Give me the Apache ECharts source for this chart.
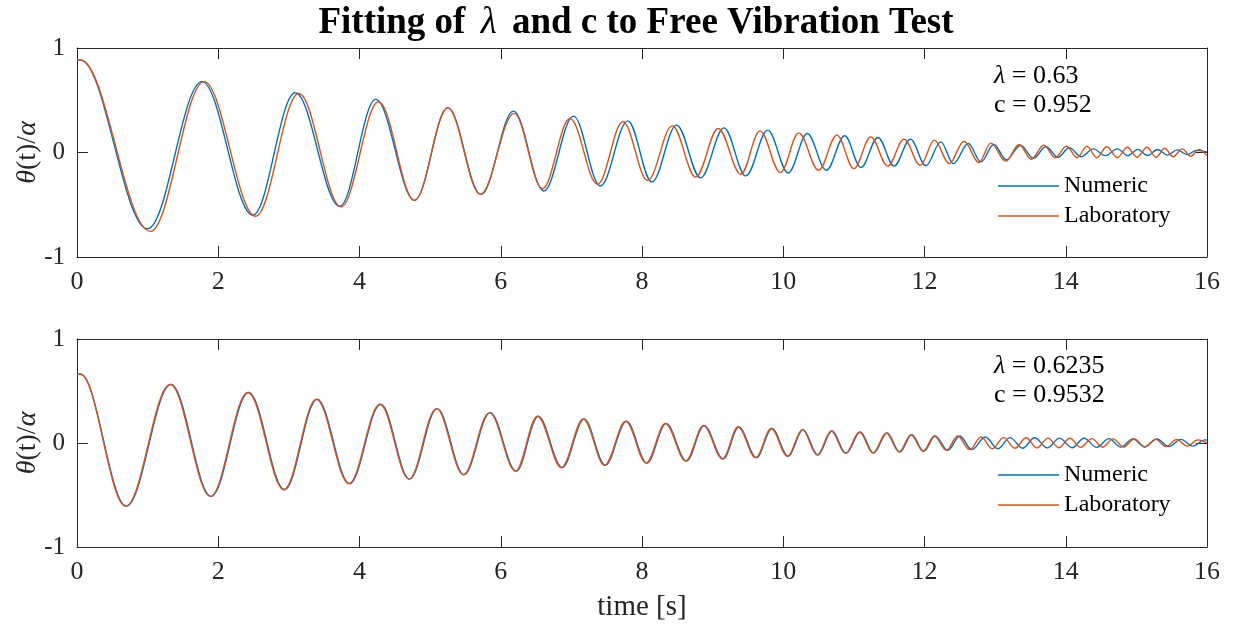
<!DOCTYPE html>
<html><head><meta charset="utf-8">
<script src="https://cdn.jsdelivr.net/npm/echarts@6/dist/echarts.min.js"></script>
<style>html,body{margin:0;padding:0;background:#fff}#c{width:1237px;height:628px}</style>
</head><body><div id="c"></div>
<script>
// ---- data: extrema (peaks/troughs) ----
const topNumericT = [0,0.05,1.00,1.77,2.49,3.09,3.72,4.23,4.78,5.25,5.72,6.18,6.61,7.03,7.41,7.80,8.14,8.49,8.83,9.16,9.47,9.78,10.07,10.34,10.61,10.87,11.10,11.34,11.57,11.80,12.02,12.23,12.41,12.62,12.80,12.98,13.16,13.36,13.54,13.72,13.89,14.05,14.22,14.39,14.56,14.73,14.88,15.02,15.16,15.30,15.44,15.58,15.72,15.85,16];
const topNumericV = [0.886,0.885,-0.73,0.678,-0.60,0.572,-0.515,0.508,-0.458,0.428,-0.403,0.396,-0.368,0.348,-0.32,0.303,-0.282,0.262,-0.243,0.236,-0.224,0.214,-0.196,0.182,-0.17,0.16,-0.144,0.144,-0.13,0.128,-0.128,0.102,-0.106,0.086,-0.09,0.077,-0.07,0.07,-0.055,0.055,-0.045,0.045,-0.04,0.035,-0.03,0.035,-0.03,0.03,-0.028,0.028,-0.025,0.025,-0.02,0.02,0.005];
const topLabT = [0,0.05,1.04,1.80,2.53,3.14,3.74,4.27,4.78,5.25,5.71,6.19,6.59,6.98,7.37,7.73,8.08,8.43,8.76,9.08,9.40,9.67,9.96,10.22,10.50,10.76,11.00,11.24,11.48,11.71,11.94,12.14,12.35,12.56,12.77,12.94,13.15,13.34,13.51,13.69,13.85,14.01,14.16,14.30,14.44,14.58,14.73,14.87,15.01,15.15,15.28,15.40,15.52,15.65,15.77,15.89,16];
const topLabV = [0.886,0.885,-0.755,0.678,-0.61,0.565,-0.52,0.486,-0.458,0.428,-0.40,0.374,-0.346,0.326,-0.304,0.294,-0.266,0.255,-0.234,0.23,-0.208,0.207,-0.192,0.188,-0.17,0.166,-0.154,0.15,-0.13,0.128,-0.122,0.118,-0.106,0.108,-0.096,0.09,-0.083,0.077,-0.064,0.07,-0.05,0.06,-0.05,0.06,-0.05,0.055,-0.05,0.05,-0.045,0.05,-0.045,0.04,-0.04,0.035,-0.035,0.03,-0.03];

const botNumericT = [0,0.05,0.70,1.33,1.90,2.43,2.94,3.40,3.86,4.30,4.71,5.10,5.48,5.85,6.22,6.53,6.87,7.18,7.48,7.78,8.07,8.34,8.63,8.88,9.15,9.37,9.62,9.84,10.07,10.28,10.49,10.69,10.89,11.09,11.28,11.47,11.65,11.82,11.99,12.15,12.33,12.50,12.67,12.86,13.04,13.21,13.39,13.56,13.74,13.91,14.09,14.26,14.44,14.61,14.78,14.95,15.12,15.29,15.46,15.63,15.80,15.97,16];
const botNumericV = [0.662,0.661,-0.607,0.562,-0.513,0.485,-0.449,0.421,-0.391,0.373,-0.347,0.331,-0.305,0.292,-0.27,0.257,-0.237,0.231,-0.215,0.209,-0.193,0.187,-0.173,0.167,-0.154,0.154,-0.141,0.139,-0.128,0.129,-0.115,0.116,-0.10,0.106,-0.096,0.096,-0.087,0.08,-0.08,0.068,-0.07,0.068,-0.064,0.058,-0.055,0.052,-0.05,0.05,-0.047,0.047,-0.045,0.045,-0.042,0.042,-0.04,0.04,-0.038,0.038,-0.035,0.035,-0.03,0.03,0.028];
const botLabT = [0,0.05,0.69,1.32,1.89,2.42,2.93,3.39,3.85,4.29,4.70,5.09,5.47,5.84,6.21,6.52,6.86,7.17,7.47,7.77,8.06,8.33,8.62,8.87,9.14,9.36,9.61,9.83,10.06,10.27,10.48,10.68,10.88,11.08,11.27,11.46,11.64,11.81,11.98,12.14,12.31,12.47,12.64,12.80,12.96,13.12,13.28,13.44,13.59,13.75,13.90,14.06,14.21,14.37,14.52,14.67,14.82,14.97,15.12,15.27,15.42,15.57,15.72,15.87,16];
const botLabV = [0.662,0.661,-0.607,0.562,-0.513,0.485,-0.449,0.421,-0.391,0.373,-0.347,0.331,-0.305,0.292,-0.27,0.257,-0.237,0.231,-0.215,0.209,-0.193,0.187,-0.173,0.167,-0.154,0.154,-0.141,0.139,-0.128,0.129,-0.115,0.116,-0.10,0.106,-0.096,0.096,-0.087,0.08,-0.08,0.068,-0.07,0.068,-0.064,0.058,-0.055,0.052,-0.05,0.05,-0.047,0.047,-0.045,0.045,-0.042,0.042,-0.04,0.04,-0.038,0.038,-0.035,0.035,-0.033,0.033,-0.03,0.03,0.0];

const seriesNames = ['Numeric', 'Laboratory'];
const xTickMin = 0, xTickMax = 16, xTickStep = 2;
const yTickMin = -1, yTickMax = 1, yTickStep = 1;
const topParams = ['0.63', '0.952'];
const botParams = ['0.6235', '0.9532'];
const titleParts = ['Fitting of ', 'λ', ' and c to Free Vibration Test'];
const xName = 'time [s]';

// ---- styling ----
const FONT = 'Liberation Serif';
const AX = '#262626';
const BLUE = '#0072BD', ORANGE = '#D95319';
const zip = (t, v) => t.map((x, i) => [x, v[i]]);

function xAx(grid, pos, labels) {
  return {
    type: 'value', gridIndex: grid, position: pos, min: xTickMin, max: xTickMax, interval: xTickStep,
    axisLine: { show: true, onZero: false, lineStyle: { color: AX, width: 1 } },
    axisTick: { show: true, inside: true, length: 11, lineStyle: { color: AX, width: 1 } },
    axisLabel: { show: labels, color: AX, fontFamily: FONT, fontSize: 26, margin: 12 },
    splitLine: { show: false }
  };
}
function yAx(grid, pos, labels) {
  return {
    type: 'value', gridIndex: grid, position: pos, min: yTickMin, max: yTickMax, interval: yTickStep,
    axisLine: { show: true, onZero: false, lineStyle: { color: AX, width: 1 } },
    axisTick: { show: true, inside: true, length: 11, lineStyle: { color: AX, width: 1 } },
    axisLabel: { show: labels, color: AX, fontFamily: FONT, fontSize: 25, margin: 12 },
    splitLine: { show: false },
    name: labels ? '{i|θ}(t)/{i|α}' : '',
    nameLocation: 'middle', nameGap: 35, nameRotate: 90, nameMoveOverlap: false,
    nameTextStyle: { color: AX, fontFamily: FONT, fontSize: 28,
      rich: { i: { fontStyle: 'italic', fontFamily: FONT, fontSize: 28, color: AX } } }
  };
}
function line(name, color, xi, yi, data) {
  return {
    name, type: 'line', xAxisIndex: xi, yAxisIndex: yi, data,
    smooth: 0.36, smoothMonotone: 'x', symbol: 'none', showSymbol: false,
    lineStyle: { color, width: 1.4 }, itemStyle: { color }, animation: false
  };
}
function legend(top) {
  return {
    data: seriesNames.map(n => ({ name: n, icon: 'rect' })),
    orient: 'vertical', left: 993, top, itemWidth: 61, itemHeight: 1.6, itemGap: 6,
    selectedMode: false,
    textStyle: { color: '#000', fontFamily: FONT, fontSize: 24 }
  };
}
function paramText(y, params) {
  return [
    { type: 'text', x: 994, y: y, style: { text: '{i|λ} = ' + params[0], fill: '#000',
      fontFamily: FONT, fontSize: 26, verticalAlign: 'middle',
      rich: { i: { fontStyle: 'italic', fontFamily: FONT, fontSize: 26, fill: '#000' } } } },
    { type: 'text', x: 994, y: y + 29, style: { text: 'c = ' + params[1], fill: '#000',
      fontFamily: FONT, fontSize: 26, verticalAlign: 'middle' } }
  ];
}

const option = {
  backgroundColor: '#fff',
  animation: false,
  grid: [
    { left: 77, top: 48, width: 1130, height: 209, outerBoundsMode: 'none', containLabel: false },
    { left: 77, top: 339, width: 1130, height: 208, outerBoundsMode: 'none', containLabel: false }
  ],
  xAxis: [
    xAx(0, 'bottom', true), xAx(0, 'top', false),
    Object.assign(xAx(1, 'bottom', true), { name: xName, nameLocation: 'middle', nameGap: 46,
      nameMoveOverlap: false, nameTextStyle: { color: AX, fontFamily: FONT, fontSize: 29 } }),
    xAx(1, 'top', false)
  ],
  yAxis: [ yAx(0, 'left', true), yAx(0, 'right', false), yAx(1, 'left', true), yAx(1, 'right', false) ],
  legend: [ legend(169), legend(458) ],
  series: [
    line(seriesNames[0], BLUE, 0, 0, zip(topNumericT, topNumericV)),
    line(seriesNames[1], ORANGE, 0, 0, zip(topLabT, topLabV)),
    line(seriesNames[0], BLUE, 2, 2, zip(botNumericT, botNumericV)),
    line(seriesNames[1], ORANGE, 2, 2, zip(botLabT, botLabV))
  ],
  graphic: [
    { type: 'text', x: 636, y: 23, style: {
        text: '{b|' + titleParts[0] + '}{m|' + titleParts[1] + '}{b|' + titleParts[2] + '}',
        align: 'center', verticalAlign: 'middle',
        rich: {
          b: { fontFamily: FONT, fontWeight: 'bold', fontSize: 37, fill: '#000' },
          m: { fontFamily: FONT, fontStyle: 'italic', fontSize: 37, fill: '#000', padding: [0, 6, 0, 6] }
        } } }
  ].concat(paramText(76, topParams), paramText(366, botParams))
};

const chart = echarts.init(document.getElementById('c'), null, { renderer: 'canvas' });
chart.setOption(option);
</script>
</body></html>
